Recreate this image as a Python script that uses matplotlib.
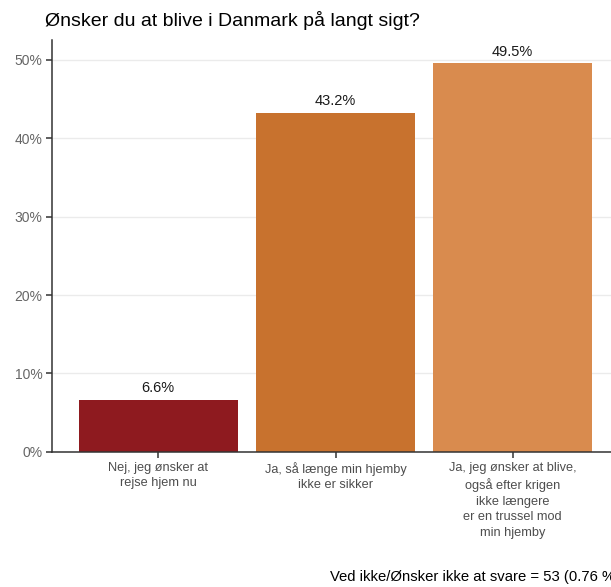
import matplotlib.pyplot as plt

plt.rcParams['font.family'] = ['Liberation Sans', 'DejaVu Sans']

categories = ["Nej, jeg ønsker at\nrejse hjem nu",
              "Ja, så længe min hjemby\nikke er sikker",
              "Ja, jeg ønsker at blive,\nogså efter krigen\nikke længere\ner en trussel mod\nmin hjemby"]
values = [6.6, 43.2, 49.5]
colors = ["#8E1A1F", "#C8722E", "#D98B4E"]
yticks = [0, 10, 20, 30, 40, 50]

fig = plt.figure(figsize=(6.11, 5.87), dpi=100)
ax = fig.add_axes([0.0851, 0.23, 0.928, 0.702])

x = range(1, len(values) + 1)
ax.bar(x, values, width=0.9, color=colors, zorder=2)
for xi, v in zip(x, values):
    ax.text(xi, v + 0.6, f"{v}%", ha="center", va="bottom", fontsize=10.5, color="#1a1a1a")

ax.set_xlim(0.4, 3.6)
ax.set_ylim(0, 52.5)
ax.set_yticks(yticks)
ax.set_yticklabels([f"{t}%" for t in yticks], fontsize=10, color="#666666")
ax.set_xticks(list(x))
ax.set_xticklabels(categories, fontsize=9.2, color="#4d4d4d", linespacing=1.4)
ax.yaxis.grid(True, color="#ebebeb", linewidth=1, zorder=0)
for s in ["top", "right"]:
    ax.spines[s].set_visible(False)
for s in ["left", "bottom"]:
    ax.spines[s].set_color("#333333")
    ax.spines[s].set_linewidth(1.1)
ax.tick_params(length=4, width=1.1, color="#333333", pad=3)

fig.text(45 / 611, 1 - 20 / 587, "Ønsker du at blive i Danmark på langt sigt?",
         fontsize=14, ha="left", va="center", color="black")
fig.text(330 / 611, 1 - 577 / 587, "Ved ikke/Ønsker ikke at svare = 53 (0.76 %)",
         fontsize=10.7, ha="left", va="center", color="black")

fig.savefig("out.png", dpi=100)
